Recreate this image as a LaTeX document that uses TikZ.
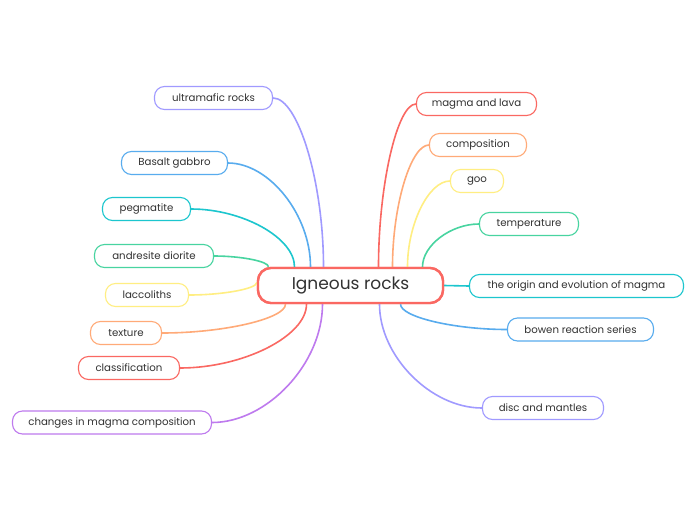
\documentclass[tikz,border=0pt]{standalone}
\usepackage{fontspec}
\setmainfont{Poppins}
\usepackage{xcolor}
\usetikzlibrary{positioning, calc}
\definecolor{mred}{RGB}{250, 104, 98}
\definecolor{morange}{RGB}{255, 170, 120}
\definecolor{myellow}{RGB}{255, 238, 130}
\definecolor{mgreen}{RGB}{72, 212, 160}
\definecolor{mcyan}{RGB}{28, 198, 206}
\definecolor{mblue}{RGB}{88, 172, 238}
\definecolor{mlav}{RGB}{160, 154, 255}
\definecolor{mviolet}{RGB}{190, 122, 238}
\definecolor{txt}{RGB}{50, 50, 50}

\begin{document}
\begin{tikzpicture}[x=1pt, y=-1pt,
    root/.style={draw=mred, line width=2.4pt, rounded corners=13pt, fill=white,
        minimum width=185pt, minimum height=35pt, text=txt, font=\fontsize{17}{19}\selectfont},
    leaf/.style={draw=#1, line width=1.1pt, rounded corners=10pt, fill=white,
        minimum height=23pt, text=txt, font=\fontsize{10.2}{12}\selectfont},
    link/.style={draw=#1, line width=1.6pt,
        to path={.. controls ($(\tikztostart)!0.5!(\tikztostart |- \tikztotarget)$)
            and ($(\tikztotarget)!0.5!(\tikztostart |- \tikztotarget)$) .. (\tikztotarget)}}]
    \useasboundingbox[fill=white] (0,0) rectangle (697,520);

    \node[root] (root) at (350.5,285.5) {Igneous rocks};

    % left side
    \node[leaf=mlav, minimum width=118pt] (ultra) at (213.5,98) {ultramafic rocks};
    \node[leaf=mblue, minimum width=106pt] (basalt) at (174.5,163) {Basalt gabbro};
    \node[leaf=mcyan, minimum width=88pt] (pegma) at (146.5,209) {pegmatite};
    \node[leaf=mgreen, minimum width=119pt] (andre) at (154,256) {andresite diorite};
    \node[leaf=myellow, minimum width=83pt] (lacco) at (147,295) {laccoliths};
    \node[leaf=morange, minimum width=71pt] (textu) at (126,333) {texture};
    \node[leaf=mred, minimum width=101pt] (class) at (129,368) {classification};
    \node[leaf=mviolet, minimum width=199pt] (change) at (112,422.5) {changes in magma composition};

    % right side
    \node[leaf=mred, minimum width=120pt] (lava) at (476.5,104) {magma and lava};
    \node[leaf=morange, minimum width=97pt] (compo) at (478,145) {composition};
    \node[leaf=myellow, minimum width=53pt] (goo) at (477,181) {goo};
    \node[leaf=mgreen, minimum width=99pt] (temp) at (529,224) {temperature};
    \node[leaf=mcyan, minimum width=214pt] (origin) at (576.5,286) {the origin and evolution of magma};
    \node[leaf=mblue, minimum width=146pt] (bowen) at (580.5,329.5) {bowen reaction series};
    \node[leaf=mlav, minimum width=121pt] (disc) at (543,408) {disc and mantles};

    \draw[link=mlav] ([xshift=-27pt]root.north) to (ultra.east);
    \draw[link=mblue] ([xshift=-40pt]root.north) to (basalt.east);
    \draw[link=mcyan] ([xshift=-56pt]root.north) to (pegma.east);
    \draw[link=mgreen] ([xshift=-82pt]root.north) to (andre.east);
    \draw[link=myellow] ([yshift=3pt]root.west) to (lacco.east);
    \draw[link=morange] ([xshift=-65pt]root.south) to (textu.east);
    \draw[link=mred] ([xshift=-44pt]root.south) to (class.east);
    \draw[link=mviolet] ([xshift=-28pt]root.south) to (change.east);

    \draw[link=mred] ([xshift=28pt]root.north) to (lava.west);
    \draw[link=morange] ([xshift=42pt]root.north) to (compo.west);
    \draw[link=myellow] ([xshift=57pt]root.north) to (goo.west);
    \draw[link=mgreen] ([xshift=72pt]root.north) to (temp.west);
    \draw[link=mcyan] (root.east) -- (origin.west);
    \draw[link=mblue] ([xshift=50pt]root.south) to (bowen.west);
    \draw[link=mlav] ([xshift=29pt]root.south) to (disc.west);

    % centre box again, above its links
    \node[root] at (root.center) {Igneous rocks};
\end{tikzpicture}
\end{document}
